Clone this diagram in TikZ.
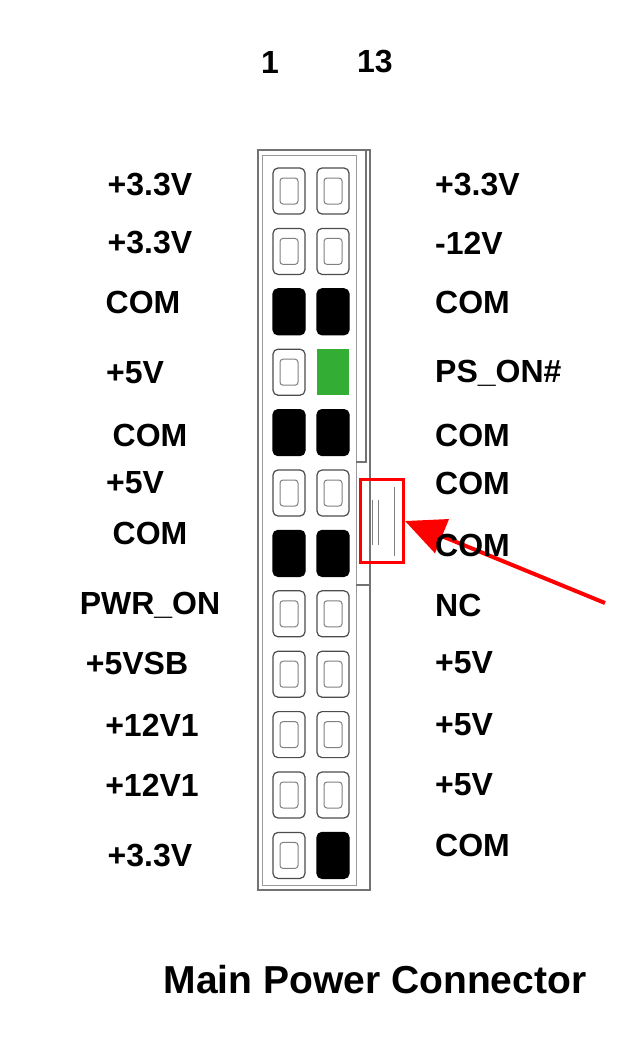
\documentclass[tikz,border=0pt]{standalone}
\usepackage{fontspec}
\setmainfont{Liberation Sans}
\usetikzlibrary{positioning,arrows.meta}
\tikzset{
    pin/.style ={
        shape=rectangle,
        rounded corners=5pt,
        draw=black!70,
        line width=1.2pt,
        fill=white,
        minimum width=32pt,
        minimum height=46pt,
        inner sep=0pt
    },
    com/.style ={
        pin,
        draw=black,
        fill=black
    },
    pson/.style ={
        pin,
        rounded corners=0pt,
        draw=none,
        fill=green!60!black!80
    },
    lbl/.style ={
        font=\fontsize{32}{34}\selectfont\bfseries,
        inner sep=0pt
    }
}
\begin{document}
\begin{tikzpicture}[x=1pt,y=-1pt]
    \useasboundingbox (0,0) rectangle (641,1047);
    % housing
    \draw[black!55,line width=1.5pt] (258,150) rectangle (370,890);
    \draw[black!40,line width=1pt] (262,155) rectangle (356,885);
    \draw[black!55,line width=1.2pt] (356,150) -- (366,150) -- (366,462) -- (356,462);
    \draw[black!55,line width=1.2pt] (356,585) -- (370,585);
    % pins
    \foreach \r/\a/\b in {1/pin/pin,2/pin/pin,3/com/com,4/pin/pson,5/com/com,6/pin/pin,
                          7/com/com,8/pin/pin,9/pin/pin,10/pin/pin,11/pin/pin,12/pin/com}{
        \node[\a] (L\r) at (289,{191+60.4*(\r-1)}) {};
        \node[\b] (R\r) at (333,{191+60.4*(\r-1)}) {};
    }
    \foreach \r in {1,2,4,6,8,9,10,11,12}{
        \node[draw=black!50,line width=1pt,rounded corners=3pt,minimum width=18pt,minimum height=26pt] at (L\r) {};
    }
    \foreach \r in {1,2,6,8,9,10,11}{
        \node[draw=black!50,line width=1pt,rounded corners=3pt,minimum width=18pt,minimum height=26pt] at (R\r) {};
    }
    % latch
    \node[draw=red,line width=3pt,minimum width=43pt,minimum height=83pt,inner sep=0pt] (latch) at (382,521) {};
    \draw[black!50,line width=1pt] (372,500) -- (372,545) (378,500) -- (378,545) (394,487) -- (394,556);
    \coordinate (tail) at (605,603);
    \draw[red,line width=4pt,-{Triangle[length=40pt,width=36pt]}] (tail) -- (latch.east);
    % pin numbers
    \node[lbl] (n1) at (270,62) {1};
    \node[lbl] (n13) at (375,62) {13};
    % left labels
    \foreach \t/\x/\y in {+3.3V/150/185,+3.3V/150/243,COM/143/302,+5V/135/373,COM/150/435,+5V/135/483,
                          COM/150/533,PWR\_ON/150/605,+5VSB/137/663,+12V1/152/725,+12V1/152/785,+3.3V/150/855}{
        \node[lbl] at (\x,\y) {\t};
    }
    % right labels
    \foreach \t/\y in {+3.3V/185,-12V/243,COM/302,PS\_ON\#/373,COM/435,COM/483,COM/545,NC/605,
                       +5V/663,+5V/725,+5V/785,COM/845}{
        \node[lbl,anchor=west] at (435,\y) {\t};
    }
    \node[font=\fontsize{39}{41}\selectfont\bfseries,inner sep=0pt] (title) at (375,980) {Main Power Connector};
\end{tikzpicture}
\end{document}
